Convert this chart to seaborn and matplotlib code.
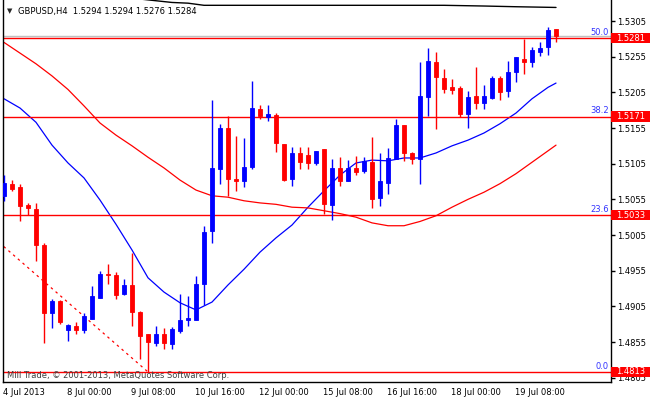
import numpy as np
import matplotlib
matplotlib.use("Agg")
import matplotlib.pyplot as plt
import matplotlib.transforms as mtransforms
from matplotlib.patches import Rectangle
import seaborn as sns

# GBPUSD H4 candles (4 Jul 2013 16:00 .. 19 Jul 2013)
opens = [1.5060, 1.5077, 1.5072, 1.5047, 1.5042, 1.4991, 1.4896, 1.4913, 1.4872, 1.4878,
         1.4872, 1.4887, 1.4917, 1.4951, 1.4949, 1.4922, 1.4935, 1.4897, 1.4866, 1.4854,
         1.4866, 1.4852, 1.4871, 1.4886, 1.4886, 1.4936, 1.5011, 1.5098, 1.5155, 1.5084,
         1.5081, 1.5100, 1.5182, 1.5171, 1.5173, 1.5133, 1.5084, 1.5120, 1.5117, 1.5106,
         1.5125, 1.5047, 1.5099, 1.5081, 1.5099, 1.5095, 1.5108, 1.5057, 1.5078, 1.5112,
         1.5159, 1.5120, 1.5112, 1.5199, 1.5248, 1.5225, 1.5212, 1.5211, 1.5175, 1.5200,
         1.5190, 1.5197, 1.5225, 1.5207, 1.5233, 1.5252, 1.5248, 1.5261, 1.5269, 1.5294]
highs = [1.5089, 1.5082, 1.5077, 1.5050, 1.5050, 1.4994, 1.4915, 1.4914, 1.4880, 1.4883,
         1.4896, 1.4933, 1.4954, 1.4964, 1.4953, 1.4944, 1.4980, 1.4899, 1.4866, 1.4877,
         1.4874, 1.4876, 1.4922, 1.4920, 1.4947, 1.5017, 1.5194, 1.5161, 1.5172, 1.5144,
         1.5141, 1.5221, 1.5187, 1.5187, 1.5176, 1.5133, 1.5129, 1.5129, 1.5129, 1.5123,
         1.5125, 1.5112, 1.5115, 1.5110, 1.5116, 1.5114, 1.5143, 1.5120, 1.5127, 1.5168,
         1.5159, 1.5122, 1.5247, 1.5267, 1.5262, 1.5238, 1.5223, 1.5214, 1.5207, 1.5241,
         1.5215, 1.5228, 1.5228, 1.5249, 1.5254, 1.5280, 1.5268, 1.5276, 1.5297, 1.5294]
lows = [1.5053, 1.5067, 1.5025, 1.5033, 1.4968, 1.4854, 1.4875, 1.4880, 1.4857, 1.4866,
        1.4867, 1.4887, 1.4917, 1.4936, 1.4916, 1.4921, 1.4878, 1.4831, 1.4813, 1.4849,
        1.4845, 1.4845, 1.4868, 1.4877, 1.4886, 1.4907, 1.4994, 1.5077, 1.5060, 1.5067,
        1.5073, 1.5098, 1.5168, 1.5165, 1.5122, 1.5081, 1.5074, 1.5097, 1.5097, 1.5103,
        1.5035, 1.5026, 1.5074, 1.5081, 1.5089, 1.5092, 1.5043, 1.5046, 1.5062, 1.5112,
        1.5109, 1.5105, 1.5077, 1.5172, 1.5153, 1.5204, 1.5202, 1.5170, 1.5155, 1.5182,
        1.5181, 1.5196, 1.5194, 1.5199, 1.5219, 1.5231, 1.5241, 1.5256, 1.5257, 1.5276]
closes = [1.5078, 1.5070, 1.5046, 1.5043, 1.4991, 1.4896, 1.4912, 1.4883, 1.4879, 1.4872,
          1.4891, 1.4920, 1.4950, 1.4949, 1.4921, 1.4935, 1.4897, 1.4863, 1.4855, 1.4866,
          1.4854, 1.4873, 1.4886, 1.4889, 1.4936, 1.5009, 1.5099, 1.5155, 1.5084, 1.5081,
          1.5100, 1.5183, 1.5172, 1.5174, 1.5134, 1.5082, 1.5120, 1.5108, 1.5106, 1.5123,
          1.5048, 1.5099, 1.5081, 1.5099, 1.5093, 1.5109, 1.5056, 1.5081, 1.5113, 1.5159,
          1.5120, 1.5112, 1.5200, 1.5249, 1.5226, 1.5210, 1.5208, 1.5175, 1.5199, 1.5190,
          1.5200, 1.5225, 1.5206, 1.5233, 1.5254, 1.5248, 1.5264, 1.5267, 1.5292, 1.5284]

# moving averages, read every 2 candles
ma_idx = [0, 2, 4, 6, 8, 10, 12, 14, 16, 18, 20, 22, 24, 26, 28, 30, 32, 34, 36, 38,
          40, 42, 44, 46, 48, 50, 52, 54, 56, 58, 60, 62, 64, 66, 68, 69]
fast_ma = [1.5196, 1.5183, 1.5163, 1.5131, 1.5106, 1.5085, 1.5054, 1.5020, 1.4984, 1.4945,
           1.4925, 1.4910, 1.4900, 1.4911, 1.4935, 1.4957, 1.4981, 1.5001, 1.5019, 1.5044,
           1.5067, 1.5089, 1.5106, 1.5110, 1.5109, 1.5113, 1.5113, 1.5120, 1.5130, 1.5138,
           1.5148, 1.5161, 1.5176, 1.5196, 1.5212, 1.5218]
slow_ma = [1.5275, 1.5260, 1.5245, 1.5228, 1.5209, 1.5186, 1.5162, 1.5145, 1.5130, 1.5114,
           1.5099, 1.5082, 1.5068, 1.5060, 1.5058, 1.5053, 1.5050, 1.5048, 1.5044, 1.5043,
           1.5039, 1.5035, 1.5030, 1.5022, 1.5018, 1.5018, 1.5024, 1.5032, 1.5044, 1.5055,
           1.5065, 1.5077, 1.5091, 1.5107, 1.5123, 1.5131]
long_idx = [16, 21, 23, 25, 35, 45, 55, 60, 64, 69]
long_ma = [1.5337, 1.5331, 1.5330, 1.5327, 1.5327, 1.5327, 1.5327, 1.5326, 1.5325, 1.5324]

# fibonacci
fib_levels = [0.0, 23.6, 38.2, 50.0]
fib_prices = [1.4813, 1.5033, 1.5171, 1.5281]
trend_idx = [-78, 18]
trend_price = [1.5749, 1.4813]
bid = 1.5284

yticks = [1.5305, 1.5255, 1.5205, 1.5155, 1.5105, 1.5055, 1.5005, 1.4955, 1.4905, 1.4855, 1.4805]
xtick_pos = [0, 8, 16, 24, 32, 40, 48, 56, 64]
xtick_labels = ["4 Jul 2013", "8 Jul 00:00", "9 Jul 08:00", "10 Jul 16:00", "12 Jul 00:00",
                "15 Jul 08:00", "16 Jul 16:00", "18 Jul 00:00", "19 Jul 08:00"]

sns.set_style("white")
plt.rcParams["font.family"] = ["DejaVu Sans"]
plt.rcParams["font.size"] = 6

fig = plt.figure(figsize=(6.5, 4), dpi=100)
ax = fig.add_axes([2.5 / 650, 18 / 400, 608 / 650, 382 / 400])

o = np.array(opens)
c = np.array(closes)
x = np.arange(len(o))
cols = np.where(c > o, "#0000ff", "#ff0000")

# candles
ax.vlines(x, lows, highs, colors=cols, lw=1, zorder=3)
ax.bar(x, np.abs(c - o), bottom=np.minimum(o, c), width=0.55, color=cols,
       edgecolor=cols, linewidth=0.6, zorder=4)

# moving averages
sns.lineplot(x=ma_idx, y=fast_ma, color="#0000ff", lw=0.9, ax=ax, zorder=2)
sns.lineplot(x=ma_idx, y=slow_ma, color="#ff0000", lw=0.9, ax=ax, zorder=2)
sns.lineplot(x=long_idx, y=long_ma, color="black", lw=1, ax=ax, zorder=2)

# fib retracement
ax.plot(trend_idx, trend_price, color="#ff0000", lw=0.9, ls=(0, (2, 3)), zorder=2)
ax.axhline(bid, color="#c0c0c0", lw=1, zorder=1)
for lvl, p in zip(fib_levels, fib_prices):
    ax.axhline(p, color="#ff0000", lw=1, zorder=2)
    ax.text(0.9975, p + 0.0002, f"{lvl:.1f}", color="#3333ff", ha="right", va="bottom",
            transform=ax.get_yaxis_transform(), fontsize=6)

trans = ax.get_yaxis_transform()
for p in fib_prices:
    ax.add_patch(Rectangle((1.0, p - 0.00075), 0.07, 0.0015, transform=trans,
                           facecolor="#ff0000", edgecolor="none", clip_on=False, zorder=5))
    ax.text(1.0095, p, f"{p:.4f}", color="white", ha="left", va="center",
            transform=trans, fontsize=6, zorder=6, clip_on=False)

ax.set_xlim(-0.1875, 75.81)
ax.set_ylim(1.479895, 1.533444)

ax.yaxis.tick_right()
ax.set_yticks(yticks)
ax.set_yticklabels([f"{v:.4f}" for v in yticks])
ax.set_xticks(xtick_pos)
ax.set_xticklabels(xtick_labels, ha="left")
ax.tick_params(axis="both", direction="out", length=3, width=1, color="black",
               labelsize=6, labelcolor="black", pad=2)
ax.tick_params(axis="x", pad=1.5)
offset = mtransforms.ScaledTranslation(-1.5 / 100, 0, fig.dpi_scale_trans)
for lab in ax.get_xticklabels():
    lab.set_transform(lab.get_transform() + offset)

for side in ["left", "right", "bottom"]:
    ax.spines[side].set_visible(True)
    ax.spines[side].set_color("black")
    ax.spines[side].set_linewidth(1)
ax.spines["top"].set_visible(False)
ax.set_xlabel("")
ax.set_ylabel("")

ax.text(0.008, 0.971, "\u25bc", transform=ax.transAxes, fontsize=5, va="center", ha="left")
ax.text(0.026, 0.971, "GBPUSD,H4  1.5294 1.5294 1.5276 1.5284", transform=ax.transAxes,
        fontsize=6, va="center", ha="left", color="black")
ax.text(0.0074, 0.018, "Mill Trade, \u00a9 2001-2013, MetaQuotes Software Corp.",
        transform=ax.transAxes, fontsize=6, va="center", ha="left", color="#404040")

fig.savefig("out.png", dpi=100)
